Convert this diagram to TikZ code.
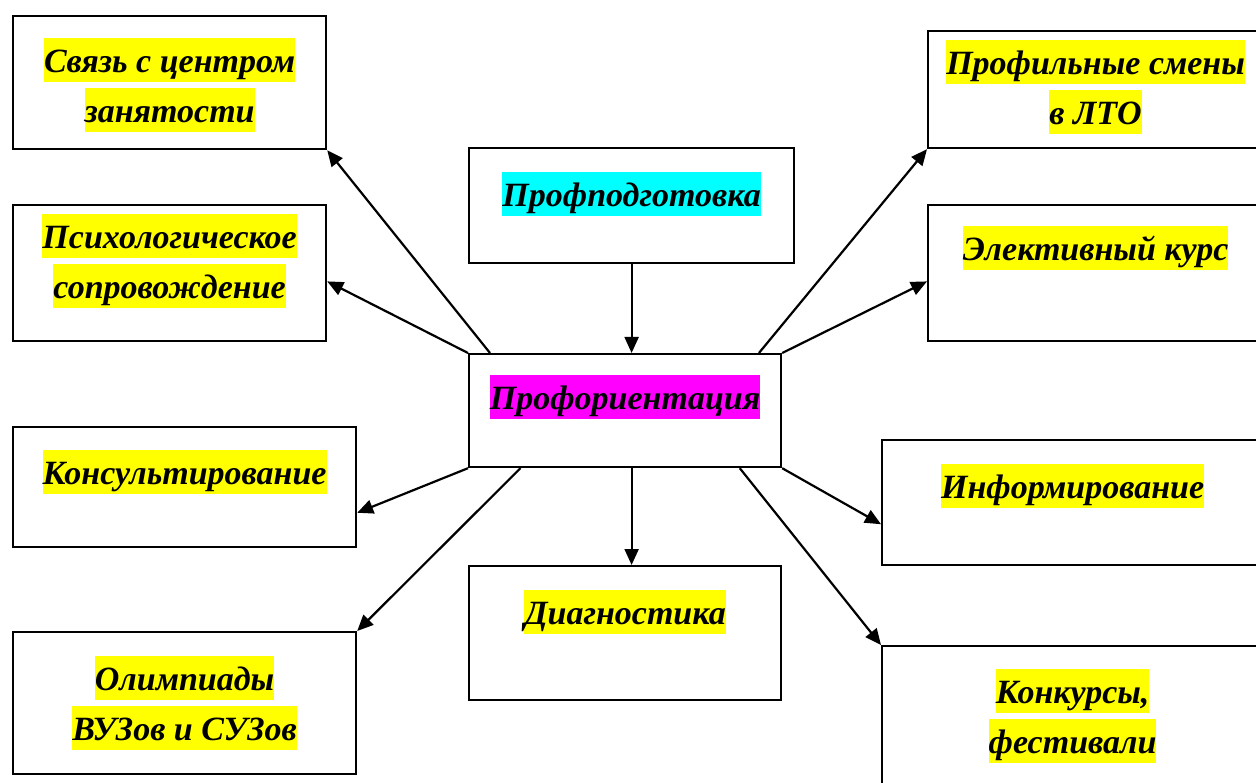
\documentclass[tikz,border=0pt]{standalone}
\usepackage{fontspec}
\setmainfont{Liberation Serif}
\usetikzlibrary{calc,arrows.meta}
\definecolor{hlyellow}{RGB}{255,255,0}
\definecolor{hlcyan}{RGB}{0,255,255}
\definecolor{hlmagenta}{RGB}{255,0,255}
\setlength{\fboxsep}{0pt}
\newcommand{\hl}[2][hlyellow]{\colorbox{#1}{\rule[-10pt]{0pt}{44pt}#2}}
\tikzset{
    block/.style = {draw, rectangle, line width=2.2pt, inner sep=0pt, anchor=north west},
    txt/.style = {anchor=north, align=center, inner sep=0pt,
        font=\bfseries\itshape\fontsize{34}{50}\selectfont},
    arrow/.style = {draw, line width=2.2pt, -{Triangle[length=16pt,width=14pt]}}
}

\begin{document}
\begin{tikzpicture}[x=1pt,y=-1pt]
    \clip (0,0) rectangle (1256,783);
    % center and the two middle boxes
    \node [block, minimum width=325, minimum height=115, label={[txt,yshift=-25pt]north:{\hl[hlcyan]{Профподготовка}}}] (prep) at (468,147) {};
    \node [block, minimum width=312, minimum height=113, label={[txt,yshift=-22pt]north:{\hl[hlmagenta]{Профориентация}}}] (po) at (468,353) {};
    \node [block, minimum width=312, minimum height=134, label={[txt,yshift=-25pt]north:{\hl{Диагностика}}}] (diag) at (468,565) {};
    % left column
    \node [block, minimum width=313, minimum height=133, label={[txt,yshift=-23pt]north:{\hl{Связь с центром}\\\hl{занятости}}}] (link) at (12,15) {};
    \node [block, minimum width=313, minimum height=136, label={[txt,yshift=-10pt]north:{\hl{Психологическое}\\\hl{сопровождение}}}] (psy) at (12,204) {};
    \node [block, minimum width=343, minimum height=120, label={[txt,yshift=-24pt]north:{\hl{Консультирование}}}] (cons) at (12,426) {};
    \node [block, minimum width=343, minimum height=142, label={[txt,yshift=-25pt]north:{\hl{Олимпиады}\\\hl{ВУЗов и СУЗов}}}] (olymp) at (12,631) {};
    % right column
    \node [block, minimum width=335, minimum height=117, label={[txt,yshift=-10pt]north:{\hl{Профильные смены}\\\hl{в ЛТО}}}] (camp) at (927,30) {};
    \node [block, minimum width=335, minimum height=136, label={[txt,yshift=-22pt]north:{\hl{Элективный курс}}}] (elect) at (927,204) {};
    \node [block, minimum width=381, minimum height=125, label={[txt,yshift=-25pt]north:{\hl{Информирование}}}] (info) at (881,439) {};
    \node [block, minimum width=381, minimum height=160, label={[txt,yshift=-24pt]north:{\hl{Конкурсы,}\\\hl{фестивали}}}] (contest) at (881,645) {};
    % arrows
    \draw [arrow] (prep.south) -- (prep.south |- po.north);
    \draw [arrow] ($(po.north west)!0.07!(po.north east)$) -- (link.south east);
    \draw [arrow] (po.north west) -- ($(psy.north east)!0.56!(psy.south east)$);
    \draw [arrow] ($(po.north west)!0.926!(po.north east)$) -- (camp.south west);
    \draw [arrow] (po.north east) -- ($(elect.north west)!0.56!(elect.south west)$);
    \draw [arrow] (po.south west) -- ($(cons.north east)!0.71!(cons.south east)$);
    \draw [arrow] ($(po.south west)!0.167!(po.south east)$) -- (olymp.north east);
    \draw [arrow] (prep.south |- po.south) -- (prep.south |- diag.north);
    \draw [arrow] ($(po.south west)!0.865!(po.south east)$) -- (contest.north west);
    \draw [arrow] (po.south east) -- ($(info.north west)!0.67!(info.south west)$);
\end{tikzpicture}
\end{document}
